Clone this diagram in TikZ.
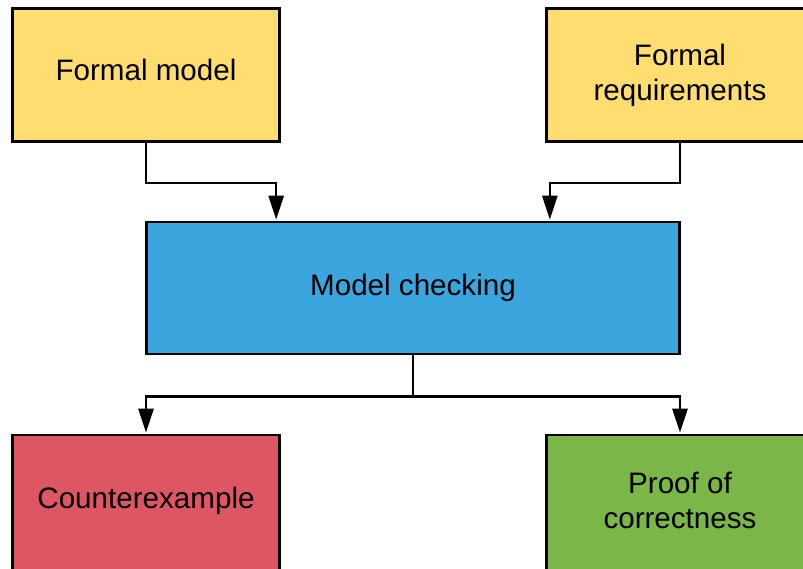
\documentclass[tikz,border=0pt]{standalone}
\usepackage{fontspec}
\setmainfont{Liberation Sans}
\usetikzlibrary{arrows.meta,calc}
\definecolor{boxyellow}{HTML}{FFDD71}
\definecolor{boxblue}{HTML}{3BA6DD}
\definecolor{boxred}{HTML}{DC5663}
\definecolor{boxgreen}{HTML}{7AB648}
\tikzset{
  stage/.style={draw=black, line width=2.7pt, rectangle, align=center,
    minimum width=267pt, minimum height=133pt, inner sep=0pt,
    font=\fontsize{29.6}{35}\selectfont},
  flow/.style={draw=black, line width=2.6pt,
    -{Triangle[length=24pt,width=15pt]}, shorten >=1pt}
}
\begin{document}
\begin{tikzpicture}[x=1pt, y=-1pt]
  \useasboundingbox (0,0) rectangle (803,568);
  \clip (0,0) rectangle (803,568);
  \fill[white] (0,0) rectangle (803,568);

  % inputs
  \node[stage, fill=boxyellow] (fm) at (146,75) {\raisebox{10pt}{Formal model}};
  \node[stage, fill=boxyellow] (fr) at (680,75) {Formal\\requirements};

  % checker
  \node[stage, fill=boxblue, minimum width=533pt, minimum height=132pt] (mc) at (413,288) {\raisebox{6pt}{Model checking}};

  % outcomes, running past the lower edge
  \node[stage, fill=boxred, minimum height=137pt] (ce) at (146,503.5) {\raisebox{12pt}{Counterexample}};
  \node[stage, fill=boxgreen, minimum height=137pt] (pc) at (680,503.5) {\raisebox{6pt}{\begin{tabular}{@{}c@{}}Proof of\\correctness\end{tabular}}};

  % entry points on the checker and the fork point below it
  \coordinate (inL) at ([xshift=131pt]mc.north west);
  \coordinate (inR) at ([xshift=-131pt]mc.north east);
  \coordinate (fork) at ($(mc.south)+(0,41)$);

  \draw[flow] (fm.south) -- ++(0,40) -| (inL);
  \draw[flow] (fr.south) -- ++(0,40) -| (inR);
  \draw[line width=2.6pt] (mc.south) -- (fork);
  \draw[flow] (fork) -| (ce.north);
  \draw[flow] (fork) -| (pc.north);
\end{tikzpicture}
\end{document}
